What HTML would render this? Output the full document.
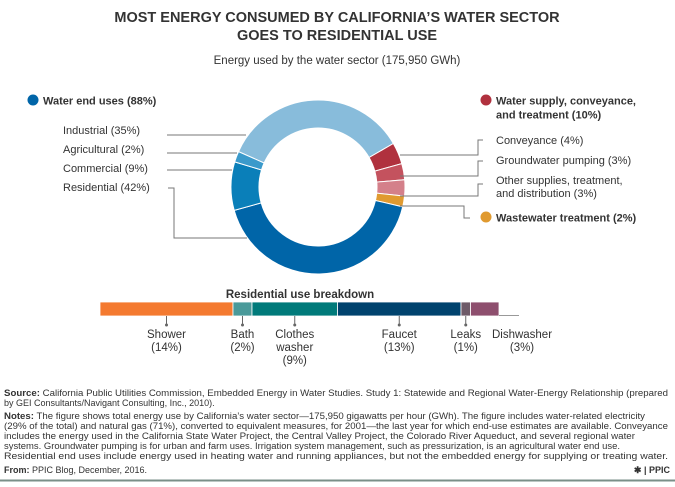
<!DOCTYPE html>
<html><head><meta charset="utf-8"><style>
body{margin:0;background:#fff;width:675px;height:482px;overflow:hidden;font-family:"Liberation Sans",sans-serif}
svg text{font-family:"Liberation Sans",sans-serif;fill:#333}
</style></head><body>
<svg id="chart" width="675" height="482" viewBox="0 0 675 482">
<text x="337" y="22" text-anchor="middle" font-size="14.5" font-weight="bold">MOST ENERGY CONSUMED BY CALIFORNIA’S WATER SECTOR</text>
<text x="337" y="40" text-anchor="middle" font-size="14.5" font-weight="bold">GOES TO RESIDENTIAL USE</text>
<text x="337" y="64" text-anchor="middle" font-size="11.5">Energy used by the water sector (175,950 GWh)</text>
<g id="donut"></g>
<g id="labels" font-size="11">
<circle cx="33" cy="100" r="5.5" fill="#0065a8"/>
<text x="43" y="104.5" font-weight="bold">Water end uses (88%)</text>
<text x="63" y="134">Industrial (35%)</text>
<text x="63" y="153">Agricultural (2%)</text>
<text x="63" y="172">Commercial (9%)</text>
<text x="63" y="191">Residential (42%)</text>
<g stroke="#777" fill="none" stroke-width="1">
<path d="M167 135H246"/><path d="M167 153H237"/><path d="M167 170H232"/><path d="M168 188H174V238H247"/>
<path d="M400 155H478V140H483"/><path d="M400 176H478V161H483"/><path d="M400 196H478V184H483"/><path d="M400 206H464V218H470"/>
</g>
<circle cx="486" cy="100" r="5.5" fill="#b0313e"/>
<text x="496" y="104.5" font-weight="bold">Water supply, conveyance,</text>
<text x="496" y="118.5" font-weight="bold">and treatment (10%)</text>
<text x="496" y="144">Conveyance (4%)</text>
<text x="496" y="164">Groundwater pumping (3%)</text>
<text x="496" y="184">Other supplies, treatment,</text>
<text x="496" y="197">and distribution (3%)</text>
<circle cx="486" cy="217" r="5.5" fill="#e09a30"/>
<text x="496" y="221.5" font-weight="bold">Wastewater treatment (2%)</text>
</g>
<text x="300" y="298" text-anchor="middle" font-size="11.5" font-weight="bold">Residential use breakdown</text>
<g id="bar"></g>
<g font-size="9" fill="#333">
<text x="4" y="396" textLength="664" lengthAdjust="spacingAndGlyphs"><tspan font-weight="bold">Source:</tspan> California Public Utilities Commission, Embedded Energy in Water Studies. Study 1: Statewide and Regional Water-Energy Relationship (prepared</text>
<text x="4" y="406">by GEI Consultants/Navigant Consulting, Inc., 2010).</text>
<text x="4" y="419" textLength="641" lengthAdjust="spacingAndGlyphs"><tspan font-weight="bold">Notes:</tspan> The figure shows total energy use by California’s water sector—175,950 gigawatts per hour (GWh). The figure includes water-related electricity</text>
<text x="4" y="429" textLength="664" lengthAdjust="spacingAndGlyphs">(29% of the total) and natural gas (71%), converted to equivalent measures, for 2001—the last year for which end-use estimates are available. Conveyance</text>
<text x="4" y="439" textLength="631" lengthAdjust="spacingAndGlyphs">includes the energy used in the California State Water Project, the Central Valley Project, the Colorado River Aqueduct, and several regional water</text>
<text x="4" y="449" textLength="616" lengthAdjust="spacingAndGlyphs">systems. Groundwater pumping is for urban and farm uses. Irrigation system management, such as pressurization, is an agricultural water end use.</text>
<text x="4" y="459" textLength="664" lengthAdjust="spacingAndGlyphs">Residential end uses include energy used in heating water and running appliances, but not the embedded energy for supplying or treating water.</text>
<text x="4" y="473"><tspan font-weight="bold">From:</tspan> PPIC Blog, December, 2016.</text>
<text x="670" y="473" text-anchor="end" font-weight="bold" fill="#999">✱ | PPIC</text>
</g>
<line x1="0" y1="480.5" x2="675" y2="480.5" stroke="#7a8f88" stroke-width="2"/>
</svg>
<script>
const donutCategories = ["Industrial","Conveyance","Groundwater pumping","Other supplies","Wastewater treatment","Residential","Commercial","Agricultural"];
const donutValues = [35,4,3,3,2,42,9,2];
const donutColors = ["#88bcdb","#b0313e","#c4525e","#d4808a","#e09a30","#0065a8","#0a7fb9","#3b9acb"];
const barCategories = ["Shower","Bath","Clothes washer","Faucet","Leaks","Dishwasher"];
const barValues = [14,2,9,13,1,3];
const barColors = ["#f47a30","#4a9a9a","#007a7a","#00436e","#6e5a68","#8e4f6e"];
const barLabels = [["Shower","(14%)"],["Bath","(2%)"],["Clothes","washer","(9%)"],["Faucet","(13%)"],["Leaks","(1%)"],["Dishwasher","(3%)"]];
const NS="http://www.w3.org/2000/svg";
const cx=318,cy=187,R=87,r=59,startDeg=-66;
const total=donutValues.reduce((a,b)=>a+b,0);
function pt(deg,rad){const a=deg*Math.PI/180;return [cx+rad*Math.sin(a),cy-rad*Math.cos(a)];}
const dg=document.getElementById('donut');
let acc=startDeg;
donutValues.forEach((v,i)=>{
 const a0=acc,a1=acc+v/total*360;acc=a1;
 const [x0,y0]=pt(a0,R),[x1,y1]=pt(a1,R),[x2,y2]=pt(a1,r),[x3,y3]=pt(a0,r);
 const large=(a1-a0)>180?1:0;
 const p=document.createElementNS(NS,'path');
 p.setAttribute('d',`M${x0} ${y0}A${R} ${R} 0 ${large} 1 ${x1} ${y1}L${x2} ${y2}A${r} ${r} 0 ${large} 0 ${x3} ${y3}Z`);
 p.setAttribute('fill',donutColors[i]);p.setAttribute('stroke','#fff');p.setAttribute('stroke-width','1');
 
 
 dg.appendChild(p);
});
const bg=document.getElementById('bar');
const bx0=100,bw=399,by=302,bh=14;
const btot=barValues.reduce((a,b)=>a+b,0);
let bx=bx0;
barValues.forEach((v,i)=>{
 const w=v/btot*bw;
 const rc=document.createElementNS(NS,'rect');
 rc.setAttribute('x',bx);rc.setAttribute('y',by);rc.setAttribute('width',w);rc.setAttribute('height',bh);
 rc.setAttribute('fill',barColors[i]);rc.setAttribute('stroke','#fff');rc.setAttribute('stroke-width','0.8');
 
 
 bg.appendChild(rc);
 const mid=bx+w/2;
 let lx=mid;
 if(i===barValues.length-1){
  const ln=document.createElementNS(NS,'path');
  ln.setAttribute('d',`M${bx+w} ${by+bh-0.5}H${bx+w+20}`);ln.setAttribute('stroke','#999');ln.setAttribute('fill','none');
  
  
  bg.appendChild(ln);
  lx=bx+w+23;
 } else {
  const t=document.createElementNS(NS,'path');
  t.setAttribute('d',`M${mid} ${by+bh}V${by+bh+9}`);t.setAttribute('stroke','#666');
  
  
  bg.appendChild(t);
  const d=document.createElementNS(NS,'circle');
  d.setAttribute('cx',mid);d.setAttribute('cy',by+bh+9);d.setAttribute('r','1.5');d.setAttribute('fill','#666');
  
  
  bg.appendChild(d);
 }
 barLabels[i].forEach((s,j)=>{
  const tx=document.createElementNS(NS,'text');
  tx.setAttribute('x',lx);tx.setAttribute('y',by+bh+22+j*13);tx.setAttribute('text-anchor','middle');tx.setAttribute('font-size','11.5');
  tx.textContent=s;
  
  
  bg.appendChild(tx);
 });
 bx+=w;
});
</script>
</body></html>
